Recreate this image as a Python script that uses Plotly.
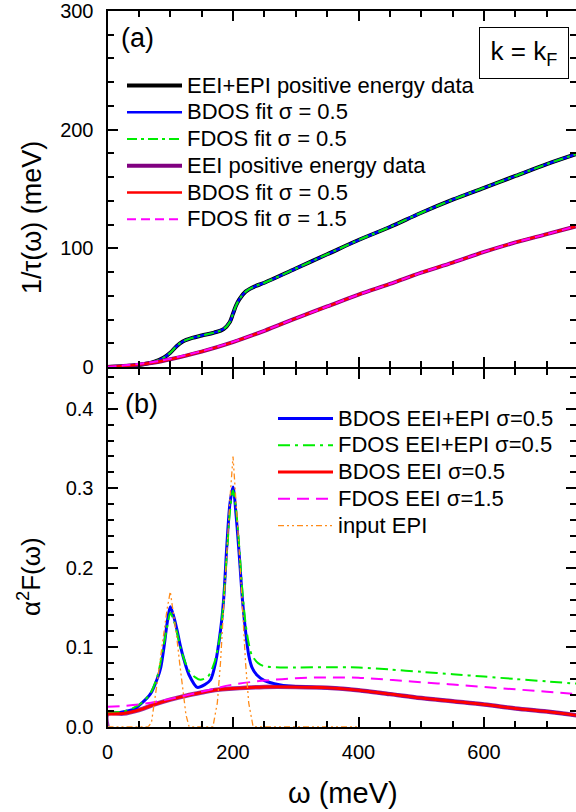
import plotly.graph_objects as go

# ---------------- data: panel (a) ----------------
omega_a_epi = [0, 25, 50, 75, 90, 100, 110, 120, 135, 150, 170, 185, 195, 200, 205, 210, 220,
               235, 250, 300, 350, 400, 450, 500, 550, 600, 650, 700, 750]
rate_eei_epi = [0, 0.6, 1.7, 4.5, 8, 12, 17.5, 21.5, 24.5, 26.5, 29, 32, 38, 45, 52, 57, 63.5,
                68, 71, 83, 95, 107, 118, 130, 141, 151, 161, 171, 180]
rate_bdos_fit = rate_eei_epi
rate_fdos_fit = rate_eei_epi

omega_a_eei = [0, 25, 50, 75, 100, 150, 200, 250, 300, 350, 400, 450, 500, 550, 600, 650, 700, 750]
rate_eei = [0, 0.8, 2, 3.8, 6.5, 13, 21, 30.5, 41, 51, 61, 70, 79.5, 88, 97, 105, 112, 119]
rate_eei_bdos = rate_eei
rate_eei_fdos = [0, 1.2, 2.6, 4.4, 7.0, 13.3, 21.2, 30.6, 41, 51, 61, 70, 79.5, 88, 97, 105, 112, 119]

# ---------------- data: panel (b) ----------------
omega_bdos_epi = [0, 20, 42, 55, 69, 80, 85, 90, 95, 100, 105, 111, 116, 122, 130, 143, 155, 164,
                  172, 180, 185, 190, 195, 200, 205, 210, 215, 220, 225, 230, 238, 250, 264, 280,
                  300, 350, 400, 450, 500, 550, 600, 650, 700, 750]
a2f_bdos_epi = [0.017, 0.018, 0.022, 0.030, 0.042, 0.062, 0.075, 0.100, 0.130, 0.151, 0.140, 0.121,
                0.102, 0.084, 0.065, 0.0495, 0.053, 0.0587, 0.080, 0.121, 0.160, 0.226, 0.280,
                0.3015, 0.265, 0.215, 0.160, 0.120, 0.090, 0.075, 0.065, 0.058, 0.0545, 0.052,
                0.0505, 0.049, 0.046, 0.041, 0.036, 0.032, 0.028, 0.023, 0.019, 0.014]

omega_fdos_epi = [0, 25, 42, 55, 69, 80, 90, 95, 100, 105, 111, 116, 122, 130, 140, 148, 160, 170,
                  180, 190, 195, 200, 205, 210, 215, 220, 225, 230, 240, 250, 275, 300, 350, 400,
                  450, 500, 550, 600, 650, 700, 750]
a2f_fdos_epi = [0.018, 0.019, 0.024, 0.030, 0.043, 0.065, 0.105, 0.125, 0.143, 0.135, 0.118, 0.100,
                0.085, 0.070, 0.062, 0.059, 0.063, 0.080, 0.118, 0.215, 0.270, 0.297, 0.272, 0.225,
                0.170, 0.130, 0.105, 0.090, 0.080, 0.076, 0.0745, 0.0745, 0.0748, 0.0745, 0.072,
                0.069, 0.066, 0.063, 0.060, 0.057, 0.054]

omega_eei = [0, 25, 50, 75, 100, 125, 150, 175, 200, 250, 300, 350, 400, 450, 500, 550, 600, 650,
             700, 750]
a2f_bdos_eei = [0.016, 0.0165, 0.021, 0.028, 0.034, 0.039, 0.043, 0.0465, 0.048, 0.050, 0.050,
                0.049, 0.046, 0.041, 0.036, 0.032, 0.028, 0.023, 0.019, 0.014]

omega_fdos_eei = [0, 50, 100, 150, 200, 250, 300, 350, 400, 450, 500, 550, 600, 650, 700, 750]
a2f_fdos_eei = [0.025, 0.028, 0.035, 0.044, 0.053, 0.058, 0.061, 0.062, 0.0615, 0.059, 0.056,
                0.053, 0.050, 0.047, 0.044, 0.041]

omega_input = [0, 65, 70, 75, 80, 85, 90, 95, 100, 105, 110, 115, 120, 125, 130, 168, 175, 180,
               185, 190, 195, 200, 205, 210, 215, 220, 225, 232, 400]
a2f_input = [0, 0, 0.005, 0.03, 0.06, 0.09, 0.12, 0.148, 0.17, 0.145, 0.115, 0.08, 0.045, 0.015,
             0, 0, 0.03, 0.08, 0.15, 0.22, 0.285, 0.34, 0.285, 0.22, 0.15, 0.08, 0.03, 0, 0]

omega_eei_raw = [0] + omega_eei
a2f_eei_raw = [0] + a2f_bdos_eei

FONT = "Liberation Sans, Arial, sans-serif"
W, H = 576, 812


def lg(s):
    return '<span style="font-size:22px">' + s + '</span>'


fig = go.Figure()

# ---- panel (a) (x2, y2) ----
fig.add_trace(go.Scatter(x=omega_a_epi, y=rate_eei_epi, xaxis="x2", yaxis="y2", mode="lines",
                         line=dict(color="black", width=4, shape="spline"),
                         name=lg("EEI+EPI positive energy data"), legend="legend"))
fig.add_trace(go.Scatter(x=omega_a_epi, y=rate_bdos_fit, xaxis="x2", yaxis="y2", mode="lines",
                         line=dict(color="#0000ff", width=2.5, shape="spline"),
                         name=lg("BDOS fit σ = 0.5"), legend="legend"))
fig.add_trace(go.Scatter(x=omega_a_epi, y=rate_fdos_fit, xaxis="x2", yaxis="y2", mode="lines",
                         line=dict(color="#00ee00", width=2, dash="10px,4px,3px,4px", shape="spline"),
                         name=lg("FDOS fit σ = 0.5"), legend="legend"))
fig.add_trace(go.Scatter(x=omega_a_eei, y=rate_eei, xaxis="x2", yaxis="y2", mode="lines",
                         line=dict(color="#800080", width=4, shape="spline"),
                         name=lg("EEI positive energy data"), legend="legend"))
fig.add_trace(go.Scatter(x=omega_a_eei, y=rate_eei_bdos, xaxis="x2", yaxis="y2", mode="lines",
                         line=dict(color="#ff0000", width=2.5, shape="spline"),
                         name=lg("BDOS fit σ = 0.5"), legend="legend"))
fig.add_trace(go.Scatter(x=omega_a_eei, y=rate_eei_fdos, xaxis="x2", yaxis="y2", mode="lines",
                         line=dict(color="#ff00ff", width=2, dash="9px,5px", shape="spline"),
                         name=lg("FDOS fit σ = 1.5"), legend="legend"))

# ---- panel (b) (x, y) ----
fig.add_trace(go.Scatter(x=omega_eei_raw, y=a2f_eei_raw, mode="lines",
                         line=dict(color="#9933aa", width=4.5, shape="spline"),
                         showlegend=False, hoverinfo="skip"))
fig.add_trace(go.Scatter(x=omega_bdos_epi, y=a2f_bdos_epi, mode="lines",
                         line=dict(color="#0000ff", width=3, shape="spline", smoothing=0.8),
                         name=lg("BDOS EEI+EPI σ=0.5"), legend="legend2"))
fig.add_trace(go.Scatter(x=omega_fdos_epi, y=a2f_fdos_epi, mode="lines",
                         line=dict(color="#00ee00", width=2, dash="12px,5px,3px,5px", shape="spline",
                                   smoothing=0.8),
                         name=lg("FDOS EEI+EPI σ=0.5"), legend="legend2"))
fig.add_trace(go.Scatter(x=omega_eei, y=a2f_bdos_eei, mode="lines",
                         line=dict(color="#ff0000", width=3, shape="spline"),
                         name=lg("BDOS EEI σ=0.5"), legend="legend2"))
fig.add_trace(go.Scatter(x=omega_fdos_eei, y=a2f_fdos_eei, mode="lines",
                         line=dict(color="#ff00ff", width=2, dash="12px,7px", shape="spline"),
                         name=lg("FDOS EEI σ=1.5"), legend="legend2"))
fig.add_trace(go.Scatter(x=omega_input, y=a2f_input, mode="lines",
                         line=dict(color="#ff8c1a", width=1.3, dash="6px,3px,2px,3px,2px,3px"),
                         name=lg("input EPI"), legend="legend2"))

# ---- axes ----
x_left = 107.5 / W
y_mid_bot = 1 - 369 / H   # top of lower panel
y_mid_top = 1 - 367 / H   # bottom of upper panel
y_bot = 1 - 726.7 / H
y_top = 1 - 11 / H

common = dict(showline=True, linewidth=2, linecolor="black", mirror="allticks",
              ticks="inside", ticklen=10, tickwidth=1.5, tickcolor="black",
              showgrid=False, zeroline=False, automargin=False,
              tickfont=dict(family=FONT, size=20, color="black"))
minor_common = dict(ticklen=6, tickwidth=1.5, ticks="inside", tickcolor="black", showgrid=False)

fig.update_layout(
    template="none",
    width=W, height=H,
    margin=dict(l=0, r=0, t=0, b=0, autoexpand=False),
    paper_bgcolor="white", plot_bgcolor="white",
    font=dict(family=FONT, color="black"),
    xaxis=dict(domain=[x_left, 1], range=[0, 746.5], anchor="y", dtick=200, tick0=0,
               minor=dict(dtick=50, **minor_common),
               ticklabelstandoff=6, **common),
    xaxis2=dict(domain=[x_left, 1], range=[0, 746.5], anchor="y2", matches="x", dtick=200, tick0=0,
                showticklabels=False,
                minor=dict(dtick=50, **minor_common),
                **common),
    yaxis=dict(domain=[y_bot, y_mid_bot], range=[0, 0.45], anchor="x", dtick=0.1, tick0=0,
               tickformat=".1f",
               minor=dict(dtick=0.02, **minor_common),
               ticklabelstandoff=8, **common),
    yaxis2=dict(domain=[y_mid_top, y_top], range=[0, 300], anchor="x2", dtick=100, tick0=0,
                minor=dict(dtick=20, **minor_common),
                ticklabelstandoff=8, **common),
    legend=dict(x=122 / W, y=1 - 67 / H, xanchor="left", yanchor="top", bgcolor="rgba(0,0,0,0)",
                font=dict(family=FONT, size=18.3, color="black"), itemwidth=55,
                tracegroupgap=0, traceorder="normal", borderwidth=0),
    legend2=dict(x=273 / W, y=1 - 400 / H, xanchor="left", yanchor="top", bgcolor="rgba(0,0,0,0)",
                 font=dict(family=FONT, size=18.3, color="black"), itemwidth=55,
                 tracegroupgap=0, traceorder="normal", borderwidth=0),
    showlegend=True,
    hovermode=False,
)

# ---- text annotations ----
ann = [
    dict(text="(a)", x=137 / W, y=1 - 38 / H, font=dict(size=27)),
    dict(text="(b)", x=141 / W, y=1 - 404 / H, font=dict(size=27)),
    dict(text="k = k<sub>F</sub>", x=523.5 / W, y=1 - 53 / H, font=dict(size=26),
         bordercolor="black", borderwidth=1, borderpad=3, bgcolor="white",
         width=82, height=44),
    dict(text="1/τ(ω) (meV)", x=32 / W, y=1 - 218 / H, font=dict(size=27), textangle=-90),
    dict(text="α<sup>2</sup>F(ω)", x=29 / W, y=1 - 577 / H, font=dict(size=26), textangle=-90),
    dict(text="ω (meV)", x=343 / W, y=1 - 793 / H, font=dict(size=29)),
]
for a in ann:
    a.update(xref="paper", yref="paper", showarrow=False, xanchor="center", yanchor="middle")
    a["font"].update(family=FONT, color="black")
    fig.add_annotation(**a)

fig.write_html("out.html", config={"displayModeBar": False},
               post_script="document.body.style.margin='0px';")
